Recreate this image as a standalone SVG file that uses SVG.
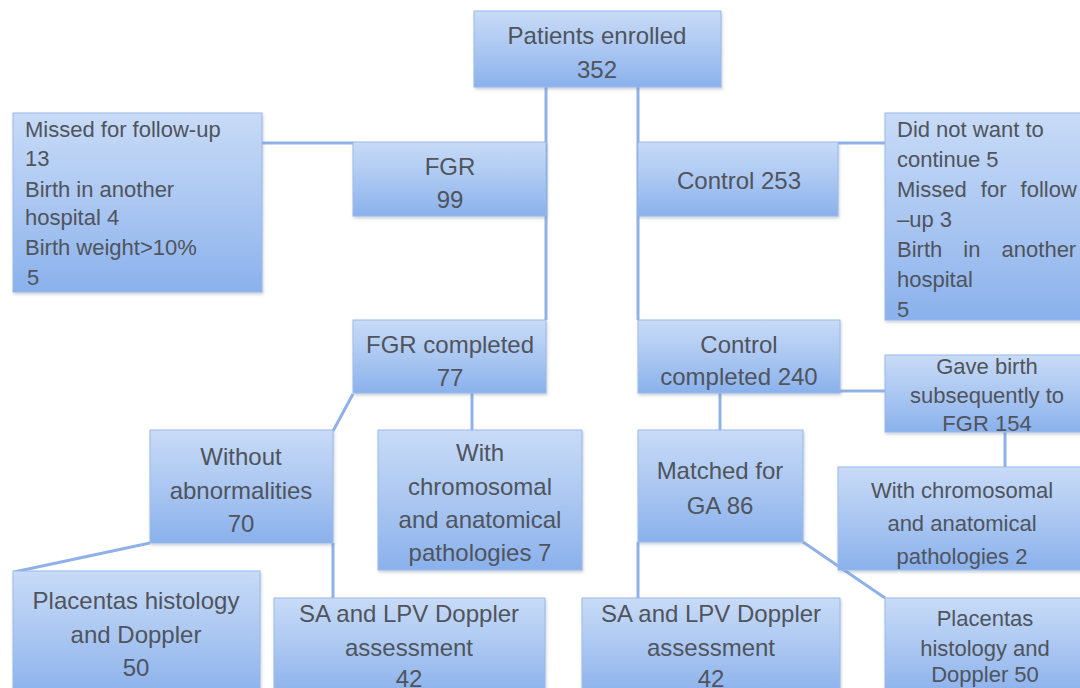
<svg xmlns="http://www.w3.org/2000/svg" width="1080" height="688" viewBox="0 0 1080 688">
<defs>
<linearGradient id="g" x1="0" y1="0" x2="0" y2="1">
<stop offset="0" stop-color="#c8dbf7"/>
<stop offset="0.55" stop-color="#a8c5f1"/>
<stop offset="1" stop-color="#8ab1ec"/>
</linearGradient>
<filter id="sh" x="-5%" y="-5%" width="115%" height="120%">
<feDropShadow dx="1" dy="2" stdDeviation="1.5" flood-color="#6d7f99" flood-opacity="0.35"/>
</filter>
</defs>
<style>
.box{fill:url(#g);stroke:#9bb9ea;stroke-width:1;filter:url(#sh)}
.t{font-family:"Liberation Sans",Arial,sans-serif;fill:#4f545d;font-size:24px;text-anchor:middle}
.s{font-size:22px}
.l{text-anchor:start}
.c{stroke:#8fb1e8;stroke-width:3;fill:none}
</style>
<rect width="1080" height="688" fill="#ffffff"/>
<g id="connectors">
<line class="c" x1="546" y1="87" x2="546" y2="320"/>
<line class="c" x1="638" y1="87" x2="638" y2="320"/>
<line class="c" x1="262" y1="143" x2="353" y2="143"/>
<line class="c" x1="838" y1="143" x2="885" y2="143"/>
<line class="c" x1="840" y1="391" x2="885" y2="391"/>
<line class="c" x1="353" y1="394" x2="333" y2="431"/>
<line class="c" x1="472" y1="393" x2="472" y2="430"/>
<line class="c" x1="720" y1="393" x2="720" y2="430"/>
<line class="c" x1="1005" y1="432" x2="1005" y2="467"/>
<line class="c" x1="150" y1="543" x2="14" y2="572"/>
<line class="c" x1="333" y1="543" x2="333" y2="598"/>
<line class="c" x1="638" y1="542" x2="638" y2="598"/>
<line class="c" x1="803" y1="542" x2="885" y2="598"/>
</g>
<g id="n-enrolled">
<rect class="box" x="474" y="11" width="247" height="76"/>
<text class="t" x="597" y="44">Patients enrolled</text>
<text class="t" x="597" y="78">352</text>
</g>
<g id="n-missed">
<rect class="box" x="13" y="113" width="249" height="179"/>
<text class="t s l" x="25" y="137">Missed for follow-up</text>
<text class="t s l" x="25" y="166">13</text>
<text class="t s l" x="25" y="197">Birth in another</text>
<text class="t s l" x="25" y="225">hospital 4</text>
<text class="t s l" x="25" y="255">Birth weight&gt;10%</text>
<text class="t s l" x="27" y="285">5</text>
</g>
<g id="n-fgr">
<rect class="box" x="353" y="142" width="193" height="74"/>
<text class="t" x="450" y="175">FGR</text>
<text class="t" x="450" y="208">99</text>
</g>
<g id="n-control">
<rect class="box" x="638" y="142" width="200" height="74"/>
<text class="t" x="739" y="189">Control 253</text>
</g>
<g id="n-didnot">
<rect class="box" x="885" y="113" width="200" height="207"/>
<text class="t s l" x="897" y="137">Did not want to</text>
<text class="t s l" x="897" y="167">continue 5</text>
<text class="t s l" x="897" y="197" word-spacing="8">Missed for follow</text>
<text class="t s l" x="897" y="227">–up 3</text>
<text class="t s l" x="897" y="257" word-spacing="15">Birth in another</text>
<text class="t s l" x="897" y="287">hospital</text>
<text class="t s l" x="897" y="317">5</text>
</g>
<g id="n-fgrcompleted">
<rect class="box" x="353" y="320" width="193" height="73"/>
<text class="t" x="450" y="353">FGR completed</text>
<text class="t" x="450" y="386">77</text>
</g>
<g id="n-controlcompleted">
<rect class="box" x="638" y="320" width="202" height="73"/>
<text class="t" x="739" y="353">Control</text>
<text class="t" x="739" y="385">completed 240</text>
</g>
<g id="n-gavebirth">
<rect class="box" x="885" y="355" width="200" height="77"/>
<text class="t s" x="987" y="374">Gave birth</text>
<text class="t s" x="987" y="403">subsequently to</text>
<text class="t s" x="987" y="431">FGR 154</text>
</g>
<g id="n-without">
<rect class="box" x="150" y="430" width="183" height="113"/>
<text class="t" x="241" y="465">Without</text>
<text class="t" x="241" y="499">abnormalities</text>
<text class="t" x="241" y="532">70</text>
</g>
<g id="n-withleft">
<rect class="box" x="378" y="430" width="204" height="140"/>
<text class="t" x="480" y="461">With</text>
<text class="t" x="480" y="495">chromosomal</text>
<text class="t" x="480" y="528">and anatomical</text>
<text class="t" x="480" y="561">pathologies 7</text>
</g>
<g id="n-matched">
<rect class="box" x="638" y="430" width="165" height="112"/>
<text class="t" x="720" y="479">Matched for</text>
<text class="t" x="720" y="514">GA 86</text>
</g>
<g id="n-withright">
<rect class="box" x="838" y="467" width="247" height="103"/>
<text class="t s" x="962" y="498">With chromosomal</text>
<text class="t s" x="962" y="531">and anatomical</text>
<text class="t s" x="962" y="564">pathologies 2</text>
</g>
<g id="n-placleft">
<rect class="box" x="13" y="571" width="247" height="125"/>
<text class="t" x="136" y="609">Placentas histology</text>
<text class="t" x="136" y="643">and Doppler</text>
<text class="t" x="136" y="676">50</text>
</g>
<g id="n-saleft">
<rect class="box" x="274" y="598" width="271" height="98"/>
<text class="t" x="409" y="622">SA and LPV Doppler</text>
<text class="t" x="409" y="656">assessment</text>
<text class="t" x="409" y="687">42</text>
</g>
<g id="n-saright">
<rect class="box" x="582" y="598" width="258" height="98"/>
<text class="t" x="711" y="622">SA and LPV Doppler</text>
<text class="t" x="711" y="656">assessment</text>
<text class="t" x="711" y="687">42</text>
</g>
<g id="n-placright">
<rect class="box" x="885" y="598" width="200" height="98"/>
<text class="t s" x="985" y="626">Placentas</text>
<text class="t s" x="985" y="656">histology and</text>
<text class="t s" x="985" y="682">Doppler 50</text>
</g>
</svg>
